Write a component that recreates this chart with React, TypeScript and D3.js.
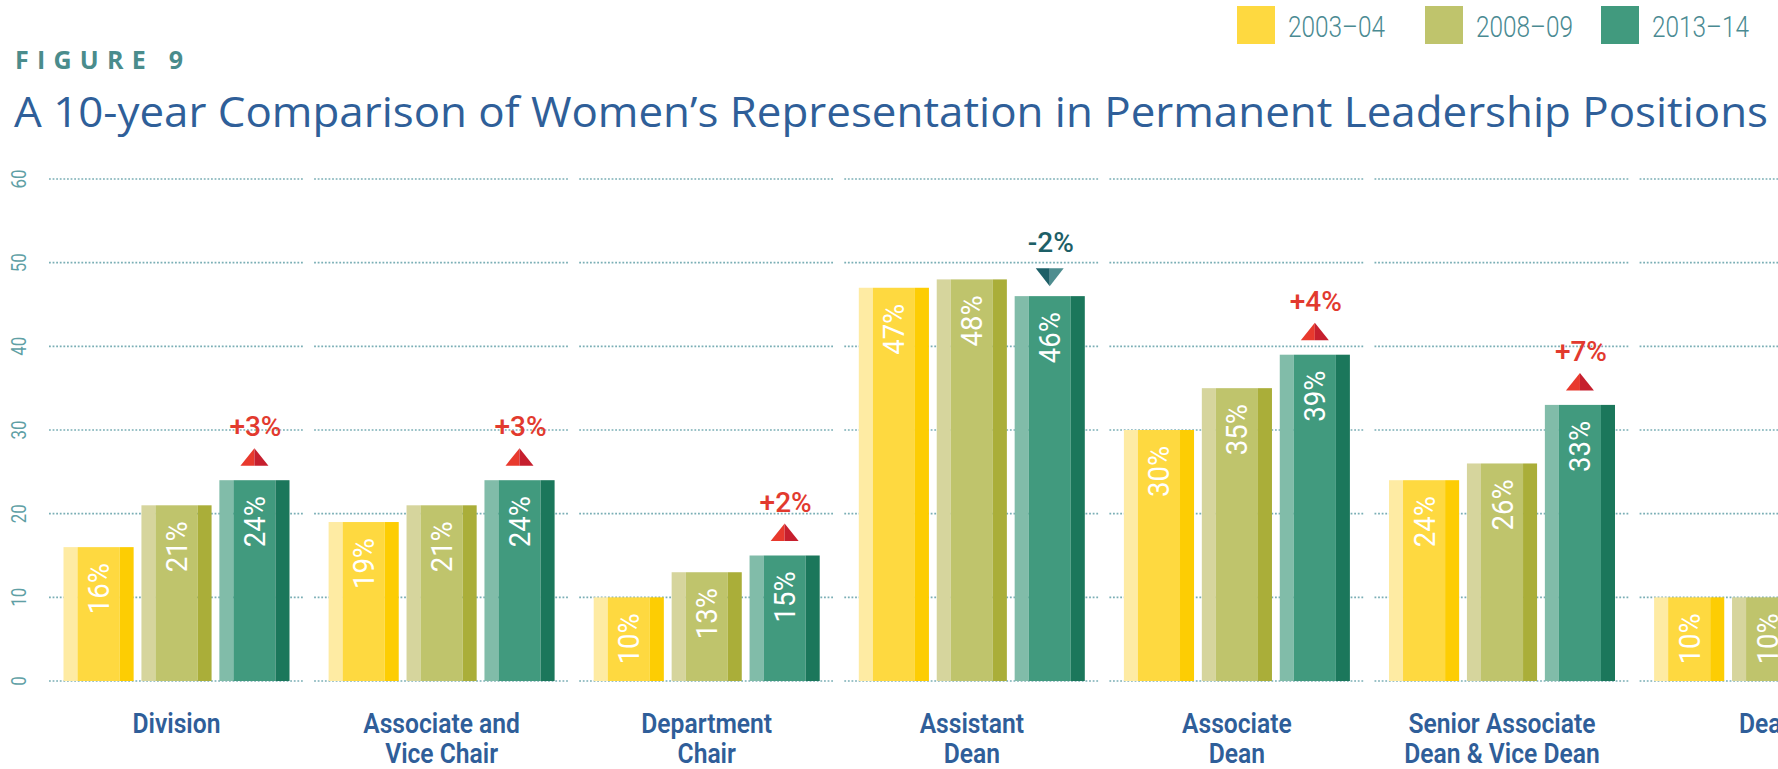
import * as d3 from "d3";

const categories = ["Division", "Associate and Vice Chair", "Department Chair", "Assistant Dean", "Associate Dean", "Senior Associate Dean & Vice Dean", "Dean"];
const categoryLines = [["Division"], ["Associate and", "Vice Chair"], ["Department", "Chair"], ["Assistant", "Dean"], ["Associate", "Dean"], ["Senior Associate", "Dean & Vice Dean"], ["Dean"]];
const years = ["2003–04", "2008–09", "2013–14"];
const share2003 = [16, 19, 10, 47, 30, 24, 10];
const share2008 = [21, 21, 13, 48, 35, 26, 10];
const share2013 = [24, 24, 15, 46, 39, 33, 14]; // last one is off the page in the source
const yTicks = [0, 10, 20, 30, 40, 50, 60];

const W = 1778, H = 769;
const palette = [
  { light: "#feeba3", main: "#fed940", dark: "#fdcd03" },
  { light: "#d6d59d", main: "#bfc46c", dark: "#aaae39" },
  { light: "#81bca9", main: "#419a7e", dark: "#1b775b" },
];
const legendX = [1237, 1425, 1601];

const y = d3.scaleLinear().domain([0, 60]).range([681, 179]);
const step = 265.1;
const x0 = d3.scaleBand().domain(categories).range([176.5 - step / 2, 176.5 - step / 2 + step * categories.length]).padding(0);
const x1 = d3.scaleBand().domain(years).range([-113, 113]).paddingInner(0.1);
const bw = x1.bandwidth();
const center = (c: string) => (x0(c) as number) + x0.bandwidth() / 2;

const series = [share2003, share2008, share2013];

const Bar = ({ cx, v, col }: { cx: number, v: number, col: typeof palette[0] }) => {
  const top = y(v), h = y(0) - top;
  return (
    <g>
      <rect x={cx} y={top} width={bw * 0.2} height={h} fill={col.light} />
      <rect x={cx + bw * 0.2} y={top} width={bw * 0.6} height={h} fill={col.main} />
      <rect x={cx + bw * 0.8} y={top} width={bw * 0.2} height={h} fill={col.dark} />
      <text
        transform={`translate(${cx + bw / 2},${top + 16}) rotate(-90)`}
        textAnchor="end" dominantBaseline="central"
        fill="#fff" fontSize={30} fontFamily="Roboto" textLength={51} lengthAdjust="spacingAndGlyphs"
      >{v}%</text>
    </g>
  );
};

export default function App() {
  return (
    <div>
      <style>{"body{margin:0}"}</style>
      <svg width={W} height={H} style={{ display: "block", background: "#fff" }}>
        {/* legend */}
        {years.map((yr, i) => (
          <g key={yr}>
            <rect x={legendX[i]} y={6} width={38} height={38} fill={palette[i].main} />
            <text x={legendX[i] + 51} y={37} fontFamily="Roboto" fontWeight={300} fontSize={29}
              fill="#4a8a92" textLength={97} lengthAdjust="spacingAndGlyphs">{yr}</text>
          </g>
        ))}

        {/* titles */}
        <text x={15} y={69} fontFamily="Open Sans" fontWeight={700} fontSize={25} fill="#4a8c8c"
          textLength={168} lengthAdjust="spacing">FIGURE 9</text>
        <text x={14} y={127} fontFamily="Open Sans" fontWeight={400} fontSize={42} fill="#2f5f99"
          textLength={1754} lengthAdjust="spacingAndGlyphs">A 10-year Comparison of Women’s Representation in Permanent Leadership Positions</text>

        {/* y tick labels */}
        {yTicks.map(t => (
          <text key={t} transform={`translate(19,${y(t)}) rotate(-90)`} textAnchor="middle" dominantBaseline="central"
            fontFamily="Roboto" fontSize={21} fill="#5f9fa5" textLength={String(t).length * 9.5} lengthAdjust="spacingAndGlyphs">{t}</text>
        ))}

        {/* dotted gridlines, one segment per category */}
        {categories.map(c => yTicks.map(t => (
          <line key={c + t} x1={center(c) - 127.5} x2={center(c) + 127.5} y1={y(t)} y2={y(t)}
            stroke="#7aaeb5" strokeWidth={1.6} strokeDasharray="1.8 1.8" />
        )))}

        {/* bars */}
        {categories.map((c, ci) => (
          <g key={c}>
            {years.map((yr, si) => (
              <Bar key={yr} cx={center(c) + (x1(yr) as number)} v={series[si][ci]} col={palette[si]} />
            ))}
          </g>
        ))}

        {/* change markers on the latest bar */}
        {categories.map((c, ci) => {
          const d = share2013[ci] - share2008[ci];
          const cx = center(c) + (x1(years[2]) as number) + bw / 2;
          const top = y(share2013[ci]);
          const up = d >= 0;
          const hw = 14;
          const base = up ? top - 14.5 : top - 28;
          const apex = up ? top - 32 : top - 10;
          const c1 = up ? "#e8392d" : "#1d5f67";
          const c2 = up ? "#c61f2e" : "#4e8d8f";
          return (
            <g key={c}>
              <polygon points={`${cx - hw},${base} ${cx},${apex} ${cx},${base}`} fill={c1} />
              <polygon points={`${cx},${apex} ${cx + hw},${base} ${cx},${base}`} fill={c2} />
              <text x={cx + 1} y={top - 44} textAnchor="middle" fontFamily="Roboto" fontWeight={500}
                fontSize={28} fill={up ? "#e23a2e" : "#1d5f67"}>{up ? "+" : "-"}{Math.abs(d)}%</text>
            </g>
          );
        })}

        {/* category labels */}
        {categories.map((c, ci) => (
          <text key={c} textAnchor="middle" fontFamily="Roboto" fontWeight={600} fontSize={28} fill="#2f5e99"
            transform={`translate(${center(c)},0) scale(0.88,1)`}>
            {categoryLines[ci].map((l, li) => (
              <tspan key={li} x={0} y={733 + li * 30}>{l}</tspan>
            ))}
          </text>
        ))}
      </svg>
    </div>
  );
}
